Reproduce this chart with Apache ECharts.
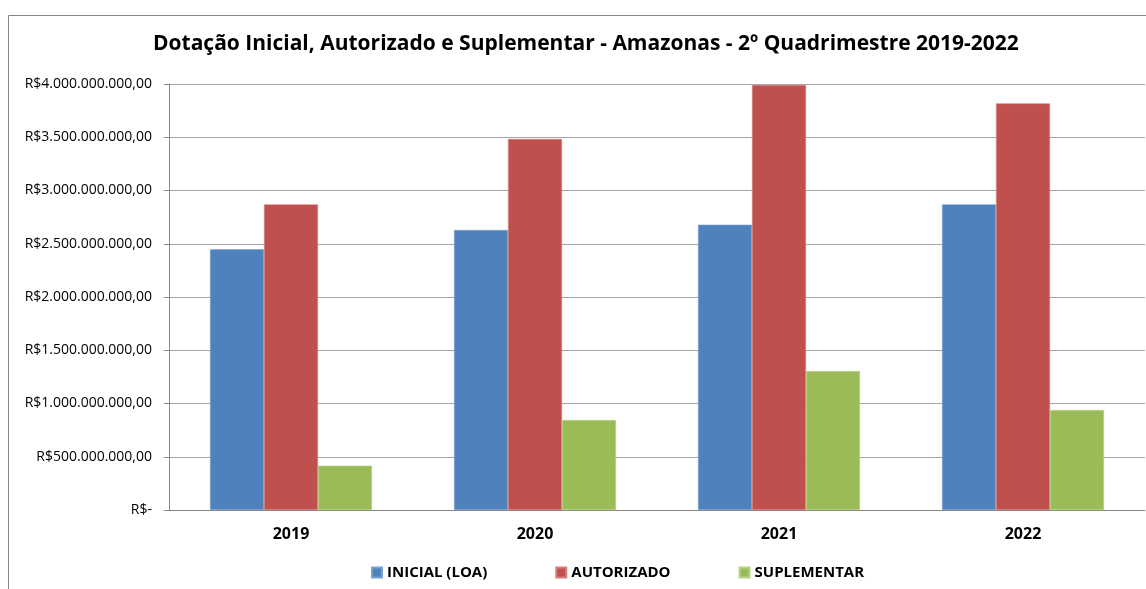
<!DOCTYPE html>
<html><head><meta charset="utf-8">
<script src="https://cdn.jsdelivr.net/npm/echarts@6/dist/echarts.min.js"></script>
<style>html,body{margin:0;padding:0;background:#fff;}#c{width:1146px;height:589px;}</style>
</head><body><div id="c"></div>
<script>
var categories = ['2019', '2020', '2021', '2022'];
var inicial = [2448000000, 2629000000, 2679000000, 2870000000];
var autorizado = [2870000000, 3484000000, 3990000000, 3818000000];
var suplementar = [416000000, 845000000, 1305000000, 939000000];
var seriesNames = ['INICIAL (LOA)', 'AUTORIZADO', 'SUPLEMENTAR'];
var titleText = 'Dotação Inicial, Autorizado e Suplementar - Amazonas - 2º Quadrimestre 2019-2022';

function fmt(v) {
  if (v === 0) return 'R$-';
  var s = Math.round(v).toString();
  var out = '';
  while (s.length > 3) { out = '.' + s.slice(-3) + out; s = s.slice(0, -3); }
  return 'R$' + s + out + ',00';
}
var font = 'Open Sans';
var chart = echarts.init(document.getElementById('c'));
chart.setOption({
  animation: false,
  textStyle: { fontFamily: font },
  title: { text: titleText, left: 148, top: 29,
    textStyle: { fontFamily: font, fontWeight: 'bold', fontSize: 21, color: '#000' } },
  graphic: [{ type: 'rect', shape: { x: 8.5, y: 15.5, width: 1200, height: 700 },
    style: { fill: 'none', stroke: '#868686', lineWidth: 1 }, silent: true, z: -1 }],
  legend: { top: 560, left: 366, itemWidth: 10, itemHeight: 10, itemGap: 68,
    icon: 'rect', textStyle: { fontFamily: font, fontWeight: 'bold', fontSize: 15, color: '#000' },
    data: seriesNames },
  grid: { left: 169, right: 1, top: 84, bottom: 79, containLabel: false },
  xAxis: { type: 'category', data: categories,
    axisLine: { lineStyle: { color: '#868686' } }, axisTick: { show: false },
    axisLabel: { fontFamily: font, fontWeight: 'bold', fontSize: 16, color: '#000', margin: 16 } },
  yAxis: { type: 'value', min: 0, max: 4000000000, interval: 500000000,
    axisLine: { show: true, lineStyle: { color: '#868686' } },
    axisTick: { show: true, length: 5, lineStyle: { color: '#868686' } },
    splitLine: { lineStyle: { color: '#A6A6A6' } },
    axisLabel: { formatter: fmt, fontFamily: font, fontSize: 14, color: '#000', margin: 17 } },
  series: [
    { name: seriesNames[0], type: 'bar', data: inicial, barGap: '0%', barCategoryGap: '33.6%',
      itemStyle: { color: '#4F81BD', borderColor: '#7EA2CF', borderWidth: 0.6 } },
    { name: seriesNames[1], type: 'bar', data: autorizado, barGap: '0%', barCategoryGap: '33.6%',
      itemStyle: { color: '#C0504D', borderColor: '#D4807E', borderWidth: 0.6 } },
    { name: seriesNames[2], type: 'bar', data: suplementar, barGap: '0%', barCategoryGap: '33.6%',
      itemStyle: { color: '#9BBB59', borderColor: '#BAD28A', borderWidth: 0.6 } }
  ]
});
</script></body></html>
